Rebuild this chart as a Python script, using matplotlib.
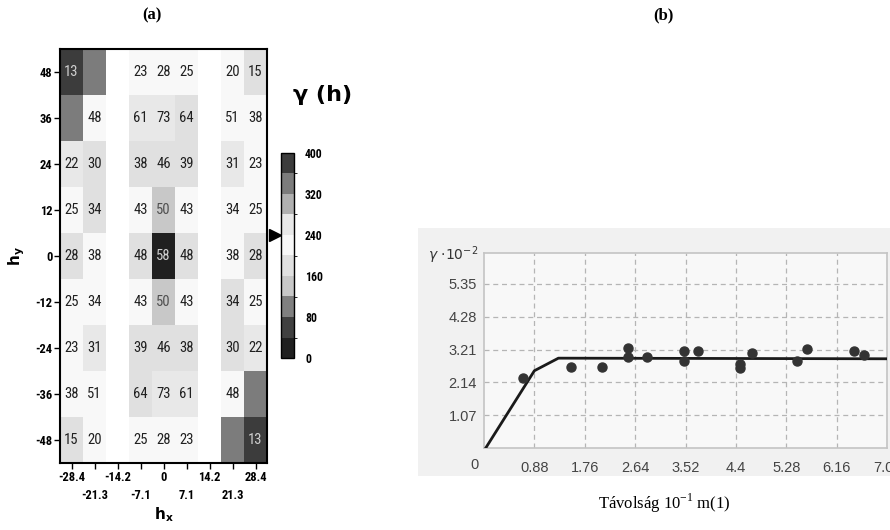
import numpy as np
import matplotlib
matplotlib.use("Agg")
import matplotlib.pyplot as plt
from matplotlib.colors import ListedColormap, BoundaryNorm
from matplotlib.patches import Rectangle
from matplotlib import font_manager
import matplotlib.cm as cm

# ---------------------------------------------------------------- data (a)
hx = [-28.4, -21.3, -14.2, -7.1, 0.0, 7.1, 14.2, 21.3, 28.4]
hy = [48, 36, 24, 12, 0, -12, -24, -36, -48]
nan = np.nan
# semivariance class value per cell (colour), rows = hy from top
gamma_map = [
    [380, 340, nan, 220, 220, 220, nan, 220, 180],
    [340, 220, nan, 260, 260, 180, nan, 220, 220],
    [260, 180, nan, 180, 180, 180, nan, 260, 220],
    [220, 180, nan, 220, 140, 220, nan, 220, 220],
    [180, 220, nan, 180, 20, 180, nan, 220, 180],
    [220, 220, nan, 220, 140, 220, nan, 180, 220],
    [220, 260, nan, 180, 180, 180, nan, 180, 260],
    [220, 220, nan, 180, 260, 260, nan, 220, 340],
    [180, 220, nan, 220, 220, 220, nan, 340, 380],
]
# number of pairs printed in each cell
pairs = [
    [13, nan, nan, 23, 28, 25, nan, 20, 15],
    [nan, 48, nan, 61, 73, 64, nan, 51, 38],
    [22, 30, nan, 38, 46, 39, nan, 31, 23],
    [25, 34, nan, 43, 50, 43, nan, 34, 25],
    [28, 38, nan, 48, 58, 48, nan, 38, 28],
    [25, 34, nan, 43, 50, 43, nan, 34, 25],
    [23, 31, nan, 39, 46, 38, nan, 30, 22],
    [38, 51, nan, 64, 73, 61, nan, 48, nan],
    [15, 20, nan, 25, 28, 23, nan, nan, 13],
]
cbar_levels = [0, 40, 80, 120, 160, 200, 240, 280, 320, 360, 400]
cbar_colors = ["#202020", "#404040", "#808080", "#c8c8c8", "#e0e0e0",
               "#f8f8f8", "#e8e8e8", "#b0b0b0", "#7c7c7c", "#3c3c3c"]
cbar_ticks = [0, 80, 160, 240, 320, 400]
sill_mark = 240

# ---------------------------------------------------------------- data (b)
lag = [0.69, 1.52, 2.06, 2.51, 2.51, 2.85, 3.49, 3.49, 3.74, 4.47, 4.47,
       4.68, 5.47, 5.64, 6.46, 6.63]
semiv = [2.29, 2.65, 2.65, 3.27, 2.96, 2.98, 3.16, 2.85, 3.16, 2.74, 2.60,
         3.11, 2.85, 3.22, 3.16, 3.03]
model_lag = [0.03, 0.88, 1.30, 7.04]
model_val = [0.0, 2.52, 2.93, 2.91]
xt = [0.88, 1.76, 2.64, 3.52, 4.4, 5.28, 6.16, 7.04]
xt_lab = ["0.88", "1.76", "2.64", "3.52", "4.4", "5.28", "6.16", "7.04"]
yt = [1.07, 2.14, 3.21, 4.28, 5.35]

W, H = 890, 530
fig = plt.figure(figsize=(W / 100, H / 100), dpi=100)
fig.patch.set_facecolor("white")


def box(l, t, r, b):
    return [l / W, 1 - b / H, (r - l) / W, (b - t) / H]


# pick a narrow face for the pixel-ish labels of the map, if one is there
have = {f.name for f in font_manager.fontManager.ttflist}
narrow = next((n for n in ["Liberation Sans Narrow", "DejaVu Sans Condensed",
                           "Roboto Condensed", "Open Sans Condensed"]
               if n in have), None)
NARROW = [narrow, "DejaVu Sans"] if narrow else ["DejaVu Sans"]
fs_cell = 10.5 if narrow else 9
fs_tick = 9 if narrow else 7.5

# ---------------------------------------------------------------- (a) map
ax = fig.add_axes(box(60, 49, 267, 463))
cmap = ListedColormap(cbar_colors)
cmap.set_bad("white")
norm = BoundaryNorm(cbar_levels, cmap.N)
G = np.ma.masked_invalid(np.array(gamma_map, dtype=float))
ax.pcolormesh(hx, hy, G, cmap=cmap, norm=norm, shading="nearest")
P = np.array(pairs, dtype=float)
for i, yv in enumerate(hy):
    for j, xv in enumerate(hx):
        if np.isnan(P[i, j]):
            continue
        g = G[i, j]
        col = "#d0d0d0" if g in (20, 380, 60) else ("#505050" if g == 140 else "#202020")
        ax.text(xv, yv, f"{int(P[i, j])}", ha="center", va="center",
                fontsize=fs_cell, color=col, family=NARROW)
ax.set_xlim(-31.95, 31.95)
ax.set_ylim(-54, 54)
# alternate x labels on two rows: even columns as major, odd as minor ticks
ax.set_xticks(hx[0::2])
ax.set_xticklabels([f"{v:g}" for v in hx[0::2]], fontsize=fs_tick,
                   family=NARROW, fontweight="bold")
ax.set_xticks(hx[1::2], minor=True)
ax.set_xticklabels([f"{v:g}" for v in hx[1::2]], minor=True, fontsize=fs_tick,
                   family=NARROW, fontweight="bold")
ax.tick_params(axis="x", which="minor", length=4, width=1, pad=15)
ax.set_yticks(hy)
ax.set_yticklabels([str(v) for v in hy], fontsize=fs_tick, family=NARROW,
                   fontweight="bold")
ax.tick_params(which="major", length=4, width=1, pad=1.5)
for s in ax.spines.values():
    s.set_linewidth(1.5)
ax.set_xlabel(r"$\mathbf{h_x}$", fontsize=11, labelpad=2)
ax.set_ylabel(r"$\mathbf{h_y}$", fontsize=11, labelpad=6)

fig.text(293 / W, 1 - 95 / H, "γ (h)", fontsize=16, fontweight="bold",
         ha="left", va="center")

cax = fig.add_axes(box(281, 153, 294, 358))
sm = cm.ScalarMappable(cmap=cmap, norm=norm)
cb = fig.colorbar(sm, cax=cax, ticks=cbar_ticks)
cb.outline.set_linewidth(1)
cax.tick_params(length=0, pad=8)
for t in cax.get_yticklabels():
    t.set_fontsize(8.5)
    t.set_family(NARROW)
    t.set_fontweight("bold")
cax.plot([-0.45], [sill_mark], marker=">", ms=9, color="black",
         transform=cax.get_yaxis_transform(), clip_on=False)

fig.text(152 / W, 1 - 15 / H, "(a)", fontsize=12, fontweight="bold",
         family="Liberation Serif", ha="center", va="center")

# ---------------------------------------------------------------- (b) variogram
fig.patches.append(Rectangle((418 / W, 1 - 476 / H), 472 / W, 248 / H,
                             transform=fig.transFigure, facecolor="#f1f1f1",
                             edgecolor="none", zorder=-5))
ax2 = fig.add_axes(box(484, 253, 887, 448))
ax2.set_zorder(2)
ax2.set_facecolor("#f8f8f8")
ax2.plot(model_lag, model_val, color="#1a1a1a", lw=2, zorder=3)
ax2.plot(lag, semiv, "o", color="#333333", ms=6.5, zorder=4)
ax2.set_xlim(0, 7.04)
ax2.set_ylim(0, 6.36)
ax2.set_xticks(xt)
ax2.set_xticklabels(xt_lab)
ax2.set_yticks(yt)
ax2.grid(True, ls=(0, (4, 3)), color="#b5b5b5", lw=0.9)
ax2.tick_params(length=0, labelsize=10.5, labelcolor="#444444", pad=9)
ax2.tick_params(axis="y", pad=5)
for s in ax2.spines.values():
    s.set_color("#c4c4c4")
    s.set_linewidth(1.2)
for t in ax2.get_xticklabels() + ax2.get_yticklabels():
    t.set_family("Liberation Sans")
ax2.annotate("0", xy=(0, 0), xytext=(-9, -17), textcoords="offset pixels",
             ha="center", va="center", fontsize=10.5, color="#444444",
             family="Liberation Sans", annotation_clip=False)
fig.text(428 / W, 1 - 255 / H, r"$\gamma\ {\cdot}10^{-2}$", fontsize=10,
         color="#333333", ha="left", va="center")

fig.text(663 / W, 1 - 15 / H, "(b)", fontsize=12, fontweight="bold",
         family="Liberation Serif", ha="center", va="center")
fig.text(664 / W, 1 - 503 / H, r"Távolság 10$^{\mathregular{-1}}$ m(1)",
         fontsize=12, family="Liberation Serif", ha="center", va="center")

fig.savefig("out.png", dpi=100)
